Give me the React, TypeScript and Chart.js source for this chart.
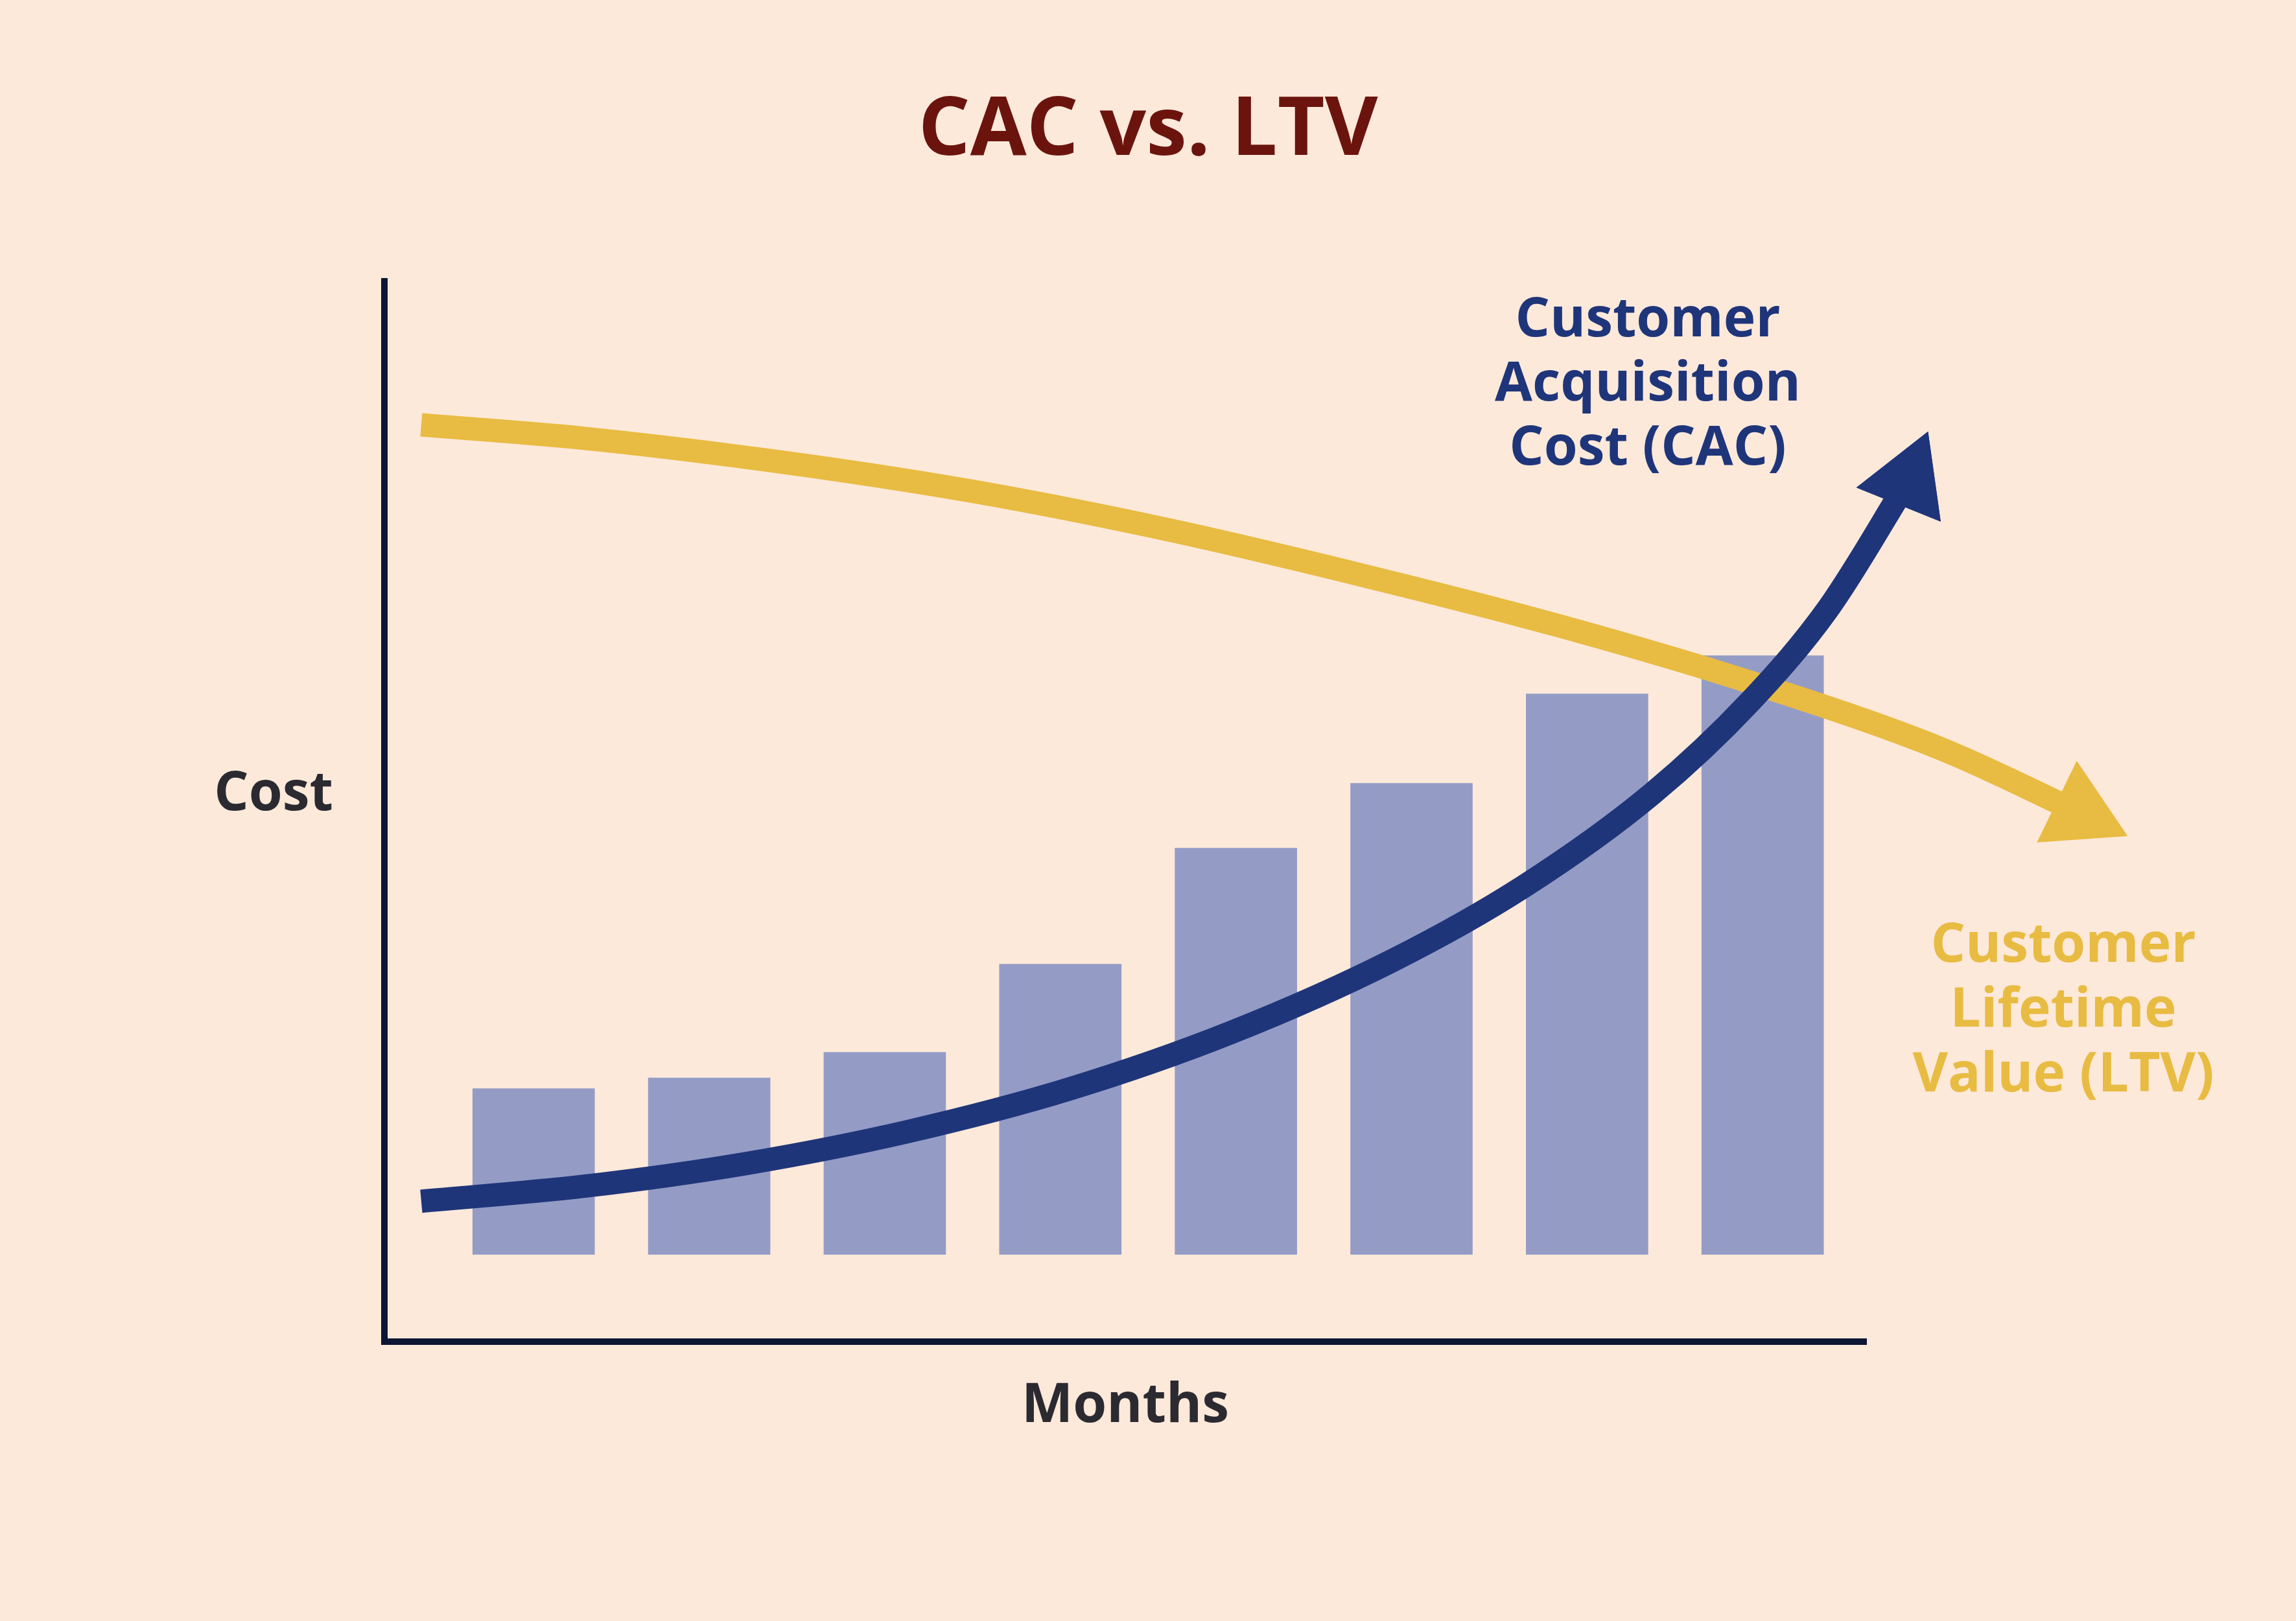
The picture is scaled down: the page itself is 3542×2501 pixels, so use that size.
import React, { useEffect, useRef } from 'react';
import { Chart, registerables } from 'chart.js';

Chart.register(...registerables);

// ---------- texts ----------
const TITLE = 'CAC vs. LTV';
const X_TITLE = 'Months';
const Y_TITLE = 'Cost';
const CAC_LABEL = ['Customer', 'Acquisition', 'Cost (CAC)'];
const LTV_LABEL = ['Customer', 'Lifetime', 'Value (LTV)'];

// ---------- data ----------
const months = [1, 2, 3, 4, 5, 6, 7, 8];
const barLow = [8.2, 8.2, 8.2, 8.2, 8.2, 8.2, 8.2, 8.2];
const barHigh = [23.8, 24.8, 27.2, 35.5, 46.4, 52.5, 60.9, 64.5];

const ltvX = [0.36, 1.28, 2.39, 3.5, 4.61, 5.71, 6.82, 7.93, 9.03, 9.81];
const ltvY = [86.2, 84.95, 82.75, 79.95, 76.35, 72.1, 67.4, 62.0, 55.65, 49.7];

const cacX = [0.36, 1.28, 2.21, 3.13, 4.05, 4.97, 5.9, 6.64, 7.37, 7.93, 8.37, 8.83];
const cacY = [13.2, 14.6, 16.75, 19.75, 23.75, 29.05, 35.9, 42.8, 51.5, 60.2, 68.85, 81.0];

const X_MIN = 0.15;
const X_MAX = 8.59;
const Y_MIN = 0;
const Y_MAX = 99.7;

// ---------- styles ----------
const W = 3542;
const H = 2501;
const FONT = "'Open Sans', 'Noto Sans', sans-serif";
const BG = '#FDE9DA';
const TITLE_COLOR = '#6B140E';
const BLUE = '#1F357A';
const BAR = '#949CC6';
const YELLOW = '#E8BB42';
const AXIS = '#0C1633';
const GRAY = '#2B2A31';

const arrowHeads = {
  id: 'arrowHeads',
  afterDatasetsDraw(chart: any) {
    const full = { left: 0, top: 0, right: chart.width, bottom: chart.height };
    chart.data.datasets.forEach((ds: any, i: number) => {
      if (ds.type !== 'line') return;
      const meta = chart.getDatasetMeta(i);
      const pts = meta.data;
      if (pts.length) pts[pts.length - 1].draw(chart.ctx, full);
    });
  },
};

const textLabels = {
  id: 'textLabels',
  afterDraw(chart: any) {
    const ctx = chart.ctx;
    ctx.save();
    ctx.font = `bold 84px ${FONT}`;
    ctx.textAlign = 'center';
    ctx.textBaseline = 'middle';
    ctx.fillStyle = GRAY;
    ctx.fillText(Y_TITLE, 422, 1226);
    ctx.fillStyle = BLUE;
    CAC_LABEL.forEach((t, i) => ctx.fillText(t, 2542, 495 + i * 99));
    ctx.fillStyle = YELLOW;
    LTV_LABEL.forEach((t, i) => ctx.fillText(t, 3183, 1460 + i * 100));
    ctx.restore();
  },
};

export default function App() {
  const ref = useRef<HTMLCanvasElement>(null);

  useEffect(() => {
    document.body.style.margin = '0';
    document.body.style.background = BG;
    if (!ref.current) return;

    const lineCommon = {
      type: 'line',
      borderWidth: 36,
      borderCapStyle: 'butt',
      borderJoinStyle: 'round',
      cubicInterpolationMode: 'monotone',
      capBezierPoints: false,
      fill: false,
      clip: false,
      pointStyle: 'triangle',
      pointBorderWidth: 0,
    };

    const chart = new Chart(ref.current, {
      type: 'bar',
      data: {
        datasets: [
          {
            ...lineCommon,
            label: 'Customer Acquisition Cost (CAC)',
            data: cacX.map((x, i) => ({ x, y: cacY[i] })),
            borderColor: BLUE,
            pointBackgroundColor: BLUE,
            pointRadius: (c: any) => (c.dataIndex === cacX.length - 1 ? 81 : 0),
            pointHoverRadius: (c: any) => (c.dataIndex === cacX.length - 1 ? 81 : 0),
            pointRotation: 22,
            order: 0,
          } as any,
          {
            ...lineCommon,
            label: 'Customer Lifetime Value (LTV)',
            data: ltvX.map((x, i) => ({ x, y: ltvY[i] })),
            borderColor: YELLOW,
            pointBackgroundColor: YELLOW,
            pointRadius: (c: any) => (c.dataIndex === ltvX.length - 1 ? 81 : 0),
            pointHoverRadius: (c: any) => (c.dataIndex === ltvX.length - 1 ? 81 : 0),
            pointRotation: 116,
            order: 1,
          } as any,
          {
            type: 'bar',
            label: 'Cost',
            data: months.map((m, i) => ({ x: m, y: [barLow[i], barHigh[i]] })),
            backgroundColor: BAR,
            borderWidth: 0,
            barThickness: 188,
            order: 2,
          } as any,
        ],
      },
      options: {
        animation: false,
        responsive: false,
        devicePixelRatio: 1,
        events: [],
        layout: { padding: { top: 0, left: 0, right: 0, bottom: 280.2 } },
        plugins: {
          legend: { display: false },
          tooltip: { enabled: false },
          title: {
            display: true,
            text: TITLE,
            color: TITLE_COLOR,
            font: { family: FONT, size: 126, weight: 'bold', lineHeight: 1.2 },
            padding: { top: 127.9, bottom: 154.9 },
          },
        },
        scales: {
          x: {
            type: 'linear',
            position: 'bottom',
            offset: false,
            bounds: 'data',
            afterDataLimits: (s: any) => {
              s.min = X_MIN;
              s.max = X_MAX;
            },
            ticks: { display: false },
            grid: { display: false, drawTicks: false },
            border: { display: true, width: 10, color: AXIS },
            title: {
              display: true,
              text: X_TITLE,
              color: GRAY,
              font: { family: FONT, size: 84, weight: 'bold', lineHeight: 1.2 },
              padding: { top: 50, bottom: 0 },
            },
          },
          y: {
            type: 'linear',
            position: 'left',
            min: Y_MIN,
            max: Y_MAX,
            ticks: { display: false },
            grid: { display: false, drawTicks: false },
            border: { display: true, width: 10, color: AXIS },
            afterFit: (s: any) => {
              s.width = 593;
            },
          },
          yPad: {
            type: 'linear',
            position: 'right',
            display: true,
            ticks: { display: false },
            grid: { display: false, drawTicks: false },
            border: { display: false },
            afterFit: (s: any) => {
              s.width = 663;
            },
          },
        },
      } as any,
      plugins: [arrowHeads, textLabels],
    } as any);

    return () => chart.destroy();
  }, []);

  return (
    <div style={{ width: W, height: H, background: BG }}>
      <canvas ref={ref} width={W} height={H} style={{ display: 'block', width: W, height: H }} />
    </div>
  );
}
